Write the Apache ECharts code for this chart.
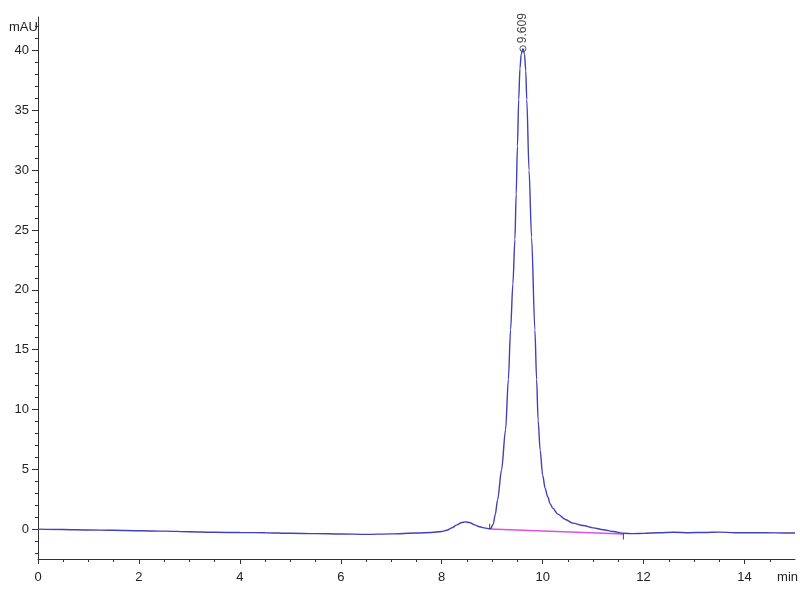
<!DOCTYPE html>
<html><head><meta charset="utf-8">
<script src="https://cdn.jsdelivr.net/npm/echarts@6/dist/echarts.min.js"></script>
<style>html,body{margin:0;padding:0;background:#fff}#c{width:800px;height:600px}</style>
</head><body><div id="c"></div>
<script>
// Retention time (min) and absorbance (mAU)
const timeMin = [0,0.5,1,1.5,2,2.5,3,3.5,4,4.5,5,5.5,6,6.5,7,7.5,7.8,8.0,8.1,8.2,8.3,8.4,8.46,8.55,8.65,8.75,8.85,8.94,8.97,9.02,9.06,9.107,9.185,9.265,9.32,9.364,9.41,9.45,9.475,9.5,9.525,9.55,9.575,9.61,9.64,9.665,9.685,9.73,9.78,9.846,9.88,9.91,9.95,10.0,10.05,10.1,10.15,10.2,10.3,10.45,10.6,10.8,11.0,11.2,11.4,11.6,11.8,12.0,12.3,12.6,12.9,13.2,13.5,13.8,14.2,14.6,15];
const signalMAU = [0,-0.03,-0.07,-0.1,-0.14,-0.17,-0.22,-0.27,-0.29,-0.3,-0.35,-0.38,-0.41,-0.44,-0.4,-0.33,-0.28,-0.2,-0.1,0.1,0.35,0.55,0.6,0.55,0.35,0.2,0.1,0.03,0.05,0.4,1.2,2.43,4.94,8.3,12.5,16.65,20.5,24.2,28,32,35.9,38.5,39.7,40.15,39.7,38.3,35.9,30,24.4,16.65,12.5,9.1,6.6,4.5,3.4,2.7,2.1,1.75,1.25,0.8,0.5,0.3,0.1,-0.05,-0.2,-0.35,-0.38,-0.36,-0.3,-0.27,-0.3,-0.28,-0.25,-0.3,-0.3,-0.32,-0.33];
const baselineTime = [8.95, 11.6];
const baselineMAU = [0.0, -0.42];
const peakTime = 9.609;
const peakMAU = 40.15;
const peakLabel = '9.609';
const xTicks = [0,2,4,6,8,10,12,14];
const xMinorTicks = [0.5,1,1.5,2.5,3,3.5,4.5,5,5.5,6.5,7,7.5,8.5,9,9.5,10.5,11,11.5,12.5,13,13.5,14.5];
const yTicks = [0,5,10,15,20,25,30,35,40];
const yMinorTicks = [-2,-1,1,2,3,4,6,7,8,9,11,12,13,14,16,17,18,19,21,22,23,24,26,27,28,29,31,32,33,34,36,37,38,39,41,42];

const trace = timeMin.map((t,i)=>[t, signalMAU[i]]);
const base = baselineTime.map((t,i)=>[t, baselineMAU[i]]);
const startMark = [[baselineTime[0], baselineMAU[0]], [baselineTime[0], baselineMAU[0]+0.45]];
const endMark = [[baselineTime[1], baselineMAU[1]], [baselineTime[1], baselineMAU[1]-0.45]];

const chart = echarts.init(document.getElementById('c'));
const font = 'Liberation Sans, Arial, sans-serif';
const axisCol = '#333';
const xBase = {type:'value',min:0,max:15,splitLine:{show:false},axisLine:{onZero:false,lineStyle:{color:axisCol}}};
const yBase = {type:'value',min:-2.5,max:42.8,splitLine:{show:false},axisLine:{onZero:false,lineStyle:{color:axisCol}}};
chart.setOption({
  animation:false,
  backgroundColor:'#fff',
  grid:{left:38,right:5,top:17,bottom:41},
  xAxis:[
    Object.assign({}, xBase, {
      axisTick:{show:true,length:5,customValues:xTicks,lineStyle:{color:axisCol}},
      axisLabel:{customValues:xTicks,color:'#222',fontSize:13,fontFamily:font,margin:12}}),
    Object.assign({}, xBase, {position:'bottom',
      axisLine:{show:false,onZero:false},
      axisTick:{show:true,length:3,customValues:xMinorTicks,lineStyle:{color:axisCol}},
      axisLabel:{show:false}})
  ],
  yAxis:[
    Object.assign({}, yBase, {
      axisTick:{show:true,length:6,customValues:yTicks,lineStyle:{color:axisCol}},
      axisLabel:{customValues:yTicks,color:'#222',fontSize:13,fontFamily:font,margin:9}}),
    Object.assign({}, yBase, {position:'left',
      axisLine:{show:false,onZero:false},
      axisTick:{show:true,length:3,customValues:yMinorTicks,lineStyle:{color:axisCol}},
      axisLabel:{show:false}})
  ],
  graphic:[
    {type:'text',left:9,top:21,style:{text:'mAU',fill:'#222',font:'13px '+font}},
    {type:'text',right:2,top:571,style:{text:'min',fill:'#222',font:'13px '+font}}
  ],
  series:[
    {type:'line',data:base,symbol:'none',lineStyle:{color:'#e050e0',width:1.5},z:2},
    {type:'line',data:startMark,symbol:'none',lineStyle:{color:'#444',width:1},z:4},
    {type:'line',data:endMark,symbol:'none',lineStyle:{color:'#444',width:1},z:4},
    {type:'line',data:trace,symbol:'none',smooth:0.3,smoothMonotone:'x',
      lineStyle:{color:'#4040b8',width:1.4},z:3,
      markPoint:{symbol:'circle',symbolSize:6,
        itemStyle:{color:'rgba(0,0,0,0)',borderColor:'#555',borderWidth:1},
        label:{show:true,position:'top',distance:2,rotate:90,color:'#444',fontSize:12,fontFamily:font,
          formatter:()=>peakLabel, align:'left', verticalAlign:'middle'},
        data:[{coord:[peakTime,peakMAU]}]}
    }
  ]
});
</script></body></html>
